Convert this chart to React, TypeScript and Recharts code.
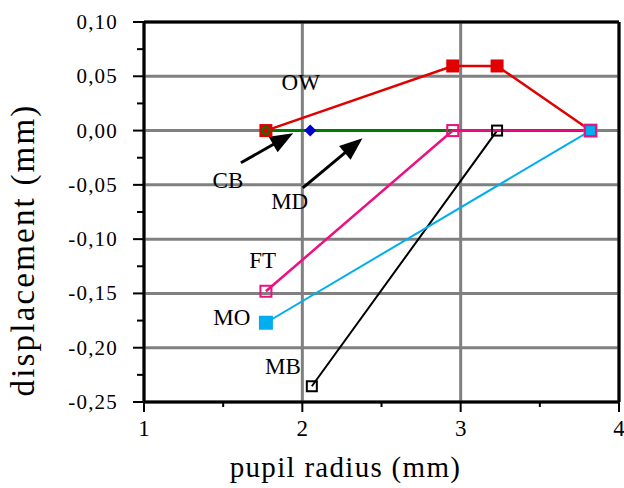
import { LineChart, Line, XAxis, YAxis, CartesianGrid, ReferenceLine, ReferenceDot } from 'recharts';

const xTicks = [1, 2, 3, 4];
const xMinorTicks = [1.5, 2.5, 3.5];
const yTicks = [0.1, 0.05, 0, -0.05, -0.1, -0.15, -0.2, -0.25];
const yMinorTicks = [0.075, 0.025, -0.025, -0.075, -0.125, -0.175, -0.225];

// one small array per curve (pupil radius, displacement)
const owData = [
  { x: 1.77, y: 0 },
  { x: 2.95, y: 0.0595 },
  { x: 3.23, y: 0.0595 },
  { x: 3.82, y: 0 },
];
const cbData = [
  { x: 1.77, y: 0 },
  { x: 3.82, y: 0 },
];
const mdData = [{ x: 2.05, y: 0 }];
const mbData = [
  { x: 2.06, y: -0.2355 },
  { x: 3.23, y: 0 },
  { x: 3.82, y: 0 },
];
const moData = [
  { x: 1.77, y: -0.177 },
  { x: 3.82, y: 0 },
];
const ftData = [
  { x: 1.77, y: -0.148 },
  { x: 2.95, y: 0 },
  { x: 3.82, y: 0 },
];

const curveLabels = [
  { text: 'OW', x: 1.99, y: 0.045 },
  { text: 'CB', x: 1.53, y: -0.0453 },
  { text: 'MD', x: 1.92, y: -0.0647 },
  { text: 'FT', x: 1.75, y: -0.119 },
  { text: 'MO', x: 1.555, y: -0.172 },
  { text: 'MB', x: 1.877, y: -0.2165 },
];

const arrows = [
  { x1: 1.612, y1: -0.0297, x2: 1.942, y2: -0.0024 },
  { x1: 2.003, y1: -0.0527, x2: 2.38, y2: -0.007 },
];

const serif = '"Liberation Serif", "Times New Roman", serif';
const fmt = (v: number) => v.toFixed(2).replace('.', ',');
const isMajorX = (v: number) => xTicks.some((t) => Math.abs(t - v) < 1e-9);
const isMajorY = (v: number) => yTicks.some((t) => Math.abs(t - v) < 1e-9);

const XTick = (p: any) => {
  const v = p.payload.value;
  const major = isMajorX(v);
  return (
    <g>
      <line x1={p.x} y1={p.y} x2={p.x} y2={p.y + (major ? 10 : 5)} stroke="#000" strokeWidth={2} />
      {major && (
        <text x={p.x} y={p.y + 34} textAnchor="middle" fontFamily={serif} fontSize={23} fill="#000">
          {v}
        </text>
      )}
    </g>
  );
};

const YTick = (p: any) => {
  const v = p.payload.value;
  const major = isMajorY(v);
  return (
    <g>
      <line x1={p.x - (major ? 11 : 7)} y1={p.y} x2={p.x} y2={p.y} stroke="#000" strokeWidth={2} />
      {major && (
        <text
          x={p.x - 26}
          y={p.y + 7}
          textAnchor="end"
          fontFamily={serif}
          fontSize={21}
          letterSpacing={1.2}
          fill="#000"
        >
          {fmt(v)}
        </text>
      )}
    </g>
  );
};

const square = (color: string, filled: boolean, size = 11) => (p: any) => (
  <rect
    key={p.index}
    x={p.cx - size / 2}
    y={p.cy - size / 2}
    width={size}
    height={size}
    fill={filled ? color : 'none'}
    stroke={color}
    strokeWidth={2}
  />
);

const circle = (color: string) => (p: any) => (
  <circle key={p.index} cx={p.cx} cy={p.cy} r={3.5} fill="none" stroke={color} strokeWidth={2} />
);

const diamond = (color: string) => (p: any) => (
  <polygon
    key={p.index}
    points={`${p.cx},${p.cy - 6} ${p.cx + 6},${p.cy} ${p.cx},${p.cy + 6} ${p.cx - 6},${p.cy}`}
    fill={color}
  />
);

const Arrow = (p: any) => {
  const { x1, y1, x2, y2 } = p;
  const a = Math.atan2(y2 - y1, x2 - x1);
  const len = 23;
  const hw = 9;
  const bx = x2 - len * Math.cos(a);
  const by = y2 - len * Math.sin(a);
  const nx = -Math.sin(a);
  const ny = Math.cos(a);
  return (
    <g>
      <line x1={x1} y1={y1} x2={bx + 2 * Math.cos(a)} y2={by + 2 * Math.sin(a)} stroke="#000" strokeWidth={3} />
      <polygon
        points={`${x2},${y2} ${bx + hw * nx},${by + hw * ny} ${bx - hw * nx},${by - hw * ny}`}
        fill="#000"
      />
    </g>
  );
};

const YTitle = (p: any) => {
  const vb = p.viewBox;
  const cx = vb.x + 34;
  const cy = vb.y + vb.height / 2 + 38;
  return (
    <text
      x={cx}
      y={cy}
      transform={`rotate(-90 ${cx} ${cy})`}
      textAnchor="middle"
      fontFamily={serif}
      fontSize={33}
      letterSpacing={2.2}
      fill="#000"
    >
      displacement (mm)
    </text>
  );
};

const XTitle = (p: any) => {
  const vb = p.viewBox;
  return (
    <text
      x={vb.x + vb.width / 2 - 36}
      y={vb.y + 75}
      textAnchor="middle"
      fontFamily={serif}
      fontSize={29}
      letterSpacing={1.3}
      fill="#000"
    >
      pupil radius (mm)
    </text>
  );
};

export default function App() {
  return (
    <div style={{ position: 'absolute', left: 0, top: 0, background: '#fff' }}>
      <LineChart width={624} height={488} margin={{ top: 22, right: 5, bottom: 0, left: 0 }}>
        <CartesianGrid
          stroke="#808080"
          strokeWidth={3}
          verticalValues={xTicks}
          horizontalValues={yTicks}
        />
        <XAxis
          type="number"
          dataKey="x"
          domain={[1, 4]}
          ticks={[...xTicks, ...xMinorTicks].sort((a, b) => a - b)}
          height={86}
          axisLine={{ stroke: '#000', strokeWidth: 3 }}
          tickLine={false}
          tickSize={0}
          tickMargin={0}
          tick={XTick}
          interval={0}
          label={{ content: XTitle }}
        />
        <YAxis
          type="number"
          domain={[-0.25, 0.1]}
          ticks={[...yTicks, ...yMinorTicks].sort((a, b) => b - a)}
          width={144}
          axisLine={{ stroke: '#000', strokeWidth: 3 }}
          tickLine={false}
          tickSize={0}
          tickMargin={0}
          tick={YTick}
          interval={0}
          label={{ content: YTitle }}
        />
        <ReferenceLine y={0.1} stroke="#000" strokeWidth={3} />
        <ReferenceLine x={4} stroke="#000" strokeWidth={3} />
        {arrows.map((a, i) => (
          <ReferenceLine
            key={`arrow-${i}`}
            segment={[
              { x: a.x1, y: a.y1 },
              { x: a.x2, y: a.y2 },
            ]}
            shape={Arrow}
          />
        ))}
        {curveLabels.map((l) => (
          <ReferenceDot
            key={l.text}
            x={l.x}
            y={l.y}
            r={0}
            shape={(p: any) => (
              <text
                x={p.cx}
                y={p.cy + 8}
                textAnchor="middle"
                fontFamily={serif}
                fontSize={23}
                fill="#000"
              >
                {l.text}
              </text>
            )}
          />
        ))}
        <Line data={owData} dataKey="y" stroke="#e00000" strokeWidth={2.5} dot={square('#e00000', true)} isAnimationActive={false} />
        <Line data={cbData} dataKey="y" stroke="#007a00" strokeWidth={3} dot={circle('#007a00')} isAnimationActive={false} />
        <Line data={mdData} dataKey="y" stroke="#0000cc" strokeWidth={2} dot={diamond('#0000cc')} isAnimationActive={false} />
        <Line data={mbData} dataKey="y" stroke="#000" strokeWidth={2} dot={square('#000', false, 10)} isAnimationActive={false} />
        <Line data={moData} dataKey="y" stroke="#00aeef" strokeWidth={2} dot={square('#00aeef', true, 12)} isAnimationActive={false} />
        <Line data={ftData} dataKey="y" stroke="#ee1080" strokeWidth={2.5} dot={square('#ee1080', false, 11)} isAnimationActive={false} />
      </LineChart>
    </div>
  );
}
